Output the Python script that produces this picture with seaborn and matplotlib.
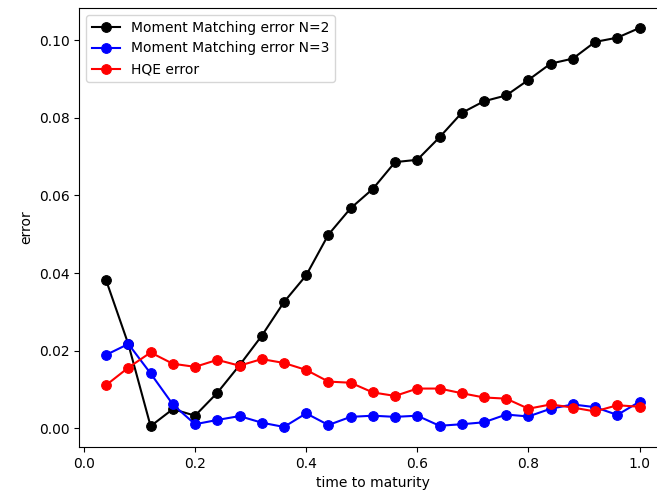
import numpy as np
import pandas as pd
import matplotlib
matplotlib.use("Agg")
import matplotlib.pyplot as plt
import seaborn as sns

t = [0.04, 0.08, 0.12, 0.16, 0.20, 0.24, 0.28, 0.32, 0.36, 0.40, 0.44, 0.48, 0.52,
     0.56, 0.60, 0.64, 0.68, 0.72, 0.76, 0.80, 0.84, 0.88, 0.92, 0.96, 1.00]
mm2 = [0.0381, 0.0216, 0.0005, 0.0049, 0.0032, 0.0091, 0.0162, 0.0238, 0.0325, 0.0394,
       0.0499, 0.0567, 0.0617, 0.0686, 0.0692, 0.0750, 0.0813, 0.0843, 0.0858, 0.0898,
       0.0940, 0.0953, 0.0996, 0.1007, 0.1032]
mm3 = [0.0189, 0.0217, 0.0141, 0.0061, 0.0010, 0.0021, 0.0031, 0.0014, 0.0003, 0.0038,
       0.0008, 0.0029, 0.0032, 0.0029, 0.0032, 0.0006, 0.0010, 0.0015, 0.0035, 0.0030,
       0.0050, 0.0061, 0.0054, 0.0034, 0.0068]
hqe = [0.0111, 0.0156, 0.0195, 0.0166, 0.0158, 0.0176, 0.0161, 0.0178, 0.0168, 0.0150,
       0.0120, 0.0117, 0.0092, 0.0083, 0.0102, 0.0102, 0.0090, 0.0079, 0.0076, 0.0050,
       0.0061, 0.0053, 0.0043, 0.0059, 0.0055]
labels = ["Moment Matching error N=2", "Moment Matching error N=3", "HQE error"]
colors = ["black", "blue", "red"]

fig = plt.figure(figsize=(6.57, 5.01), dpi=100)
# the reference is cropped on the right: the axes extend past the figure edge
ax = fig.add_axes([0.121, 0.108, 0.893, 0.876])

for ys, lab, col in zip([mm2, mm3, hqe], labels, colors):
    sns.lineplot(x=t, y=ys, ax=ax, color=col, label=lab, marker="o",
                 markersize=7, markeredgecolor=col, linewidth=1.5)

ax.set_xlabel("time to maturity")
ax.set_ylabel("error")
ax.set_xticks([0.0, 0.2, 0.4, 0.6, 0.8, 1.0])
ax.set_yticks([0.0, 0.02, 0.04, 0.06, 0.08, 0.10])
ax.set_yticklabels(["0.00", "0.02", "0.04", "0.06", "0.08", "0.10"])
ax.legend(loc="upper left")
fig.savefig("out.png", dpi=100)
